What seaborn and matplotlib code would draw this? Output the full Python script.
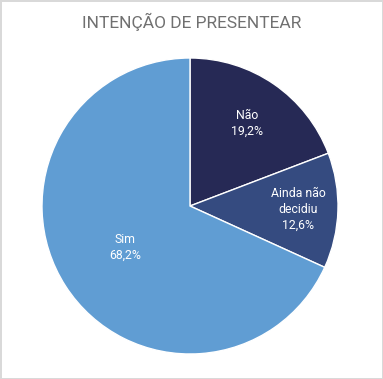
import numpy as np
import matplotlib
matplotlib.use('Agg')
import matplotlib.pyplot as plt
import seaborn as sns

# ── Data ─────────────────────────────────────────────
labels = ['Não', 'Ainda não\ndecidiu', 'Sim']
values = [19.2, 12.6, 68.2]
colors = ['#262955', '#354b80', '#609dd3']
label_dist = [0.68, 0.73, 0.52]

sns.set_theme(style='white')
plt.rcParams['font.family'] = ['Roboto', 'DejaVu Sans']

fig = plt.figure(figsize=(3.83, 3.79), dpi=100)
fig.patch.set_facecolor('white')
fig.patch.set_edgecolor('#d9d9d9')
fig.patch.set_linewidth(2)

ax = fig.add_axes([(190 - 148) / 383, 1 - (206 + 148) / 379, 296 / 383, 296 / 379])
wedges, _ = ax.pie(values, colors=colors, startangle=90, counterclock=False,
                   wedgeprops=dict(edgecolor='white', linewidth=1))
ax.set_xlim(-1, 1)
ax.set_ylim(-1, 1)
ax.set_aspect('equal')

for w, lab, v, d in zip(wedges, labels, values, label_dist):
    ang = np.deg2rad((w.theta1 + w.theta2) / 2)
    txt = f"{lab}\n{v:.1f}%".replace('.', ',')
    ax.text(d * np.cos(ang), d * np.sin(ang), txt, ha='center', va='center',
            color='white', fontsize=8.8, linespacing=1.3)

fig.text(0.5, 1 - 22 / 379, 'INTENÇÃO DE PRESENTEAR', ha='center', va='center',
         color='#707070', fontsize=12.5)

fig.savefig('out.png', dpi=100)
